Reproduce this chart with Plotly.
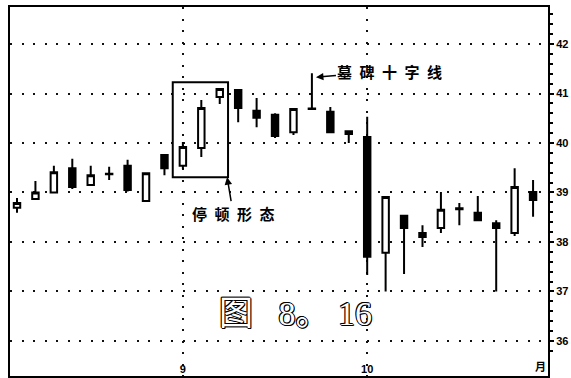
import plotly.graph_objects as go

# ---- data ----
idx = list(range(29))
opens = [38.69, 38.87, 39.00, 39.49, 39.15, 39.37, 39.54, 38.83, 39.76, 39.54,
         39.90, 40.93, 41.07, 40.65, 40.57, 40.22, 40.69, 40.63, 40.24, 40.12,
         37.78, 38.53, 38.18, 38.28, 38.66, 38.59, 38.38, 38.18, 39.01]
highs = [38.89, 39.23, 39.54, 39.68, 39.54, 39.52, 39.66, 39.39, 39.78, 40.02,
         40.87, 41.10, 41.07, 40.91, 40.60, 40.69, 41.41, 40.73, 40.24, 40.53,
         38.91, 38.55, 38.34, 39.01, 38.79, 38.93, 38.44, 39.49, 39.25]
lows = [38.59, 38.85, 38.99, 39.07, 39.15, 39.25, 39.02, 38.83, 39.35, 39.47,
        39.72, 40.79, 40.42, 40.32, 40.10, 40.16, 40.68, 40.20, 40.00, 37.33,
        37.00, 37.35, 37.90, 38.18, 38.34, 38.44, 37.00, 38.12, 38.51]
closes = [38.79, 39.00, 39.41, 39.11, 39.35, 39.38, 39.05, 39.39, 39.49, 39.92,
          40.71, 41.09, 40.71, 40.51, 40.14, 40.69, 40.70, 40.22, 40.18, 37.70,
          38.91, 38.28, 38.10, 38.65, 38.68, 38.44, 38.28, 39.11, 38.85]

month_tick_idx = [9, 19]
month_tick_text = ["9", "10"]
unit_tick_pos = [28.4]
unit_tick_text = ["月"]
price_ticks = [36, 37, 38, 39, 40, 41, 42]

pause_idx = [9, 10, 11]          # 停顿形态
gravestone_idx = 16              # 墓碑十字线

fig = go.Figure()
fig.add_trace(go.Candlestick(
    x=idx, open=opens, high=highs, low=lows, close=closes,
    increasing=dict(fillcolor="white", line=dict(color="black", width=2)),
    decreasing=dict(fillcolor="black", line=dict(color="black", width=2)),
    whiskerwidth=0, showlegend=False, hoverinfo="skip",
))
fig.add_trace(go.Scatter(x=[None], y=[None], xaxis="x2", showlegend=False))

grid = dict(gridcolor="#111", gridwidth=1.8, griddash="2px,9.5px")

fig.update_layout(
    width=571, height=378,
    margin=dict(l=10, r=23, t=7, b=2),
    paper_bgcolor="white", plot_bgcolor="white",
    boxgap=0.5,
    xaxis=dict(
        range=[-0.38, 28.81], tickvals=month_tick_idx, ticktext=month_tick_text,
        showgrid=True, **grid, zeroline=False,
        showline=True, linecolor="black", linewidth=2, mirror=True,
        ticks="", ticklabelposition="inside",
        tickfont=dict(family="Liberation Sans", size=11, color="black", weight="bold"),
        rangeslider=dict(visible=False),
    ),
    xaxis2=dict(
        overlaying="x", matches="x", side="bottom", showgrid=False, showline=False,
        tickvals=unit_tick_pos, ticktext=unit_tick_text, ticks="",
        ticklabelposition="inside", zeroline=False,
        tickfont=dict(family="Noto Sans CJK SC", size=11, color="black", weight="bold"),
    ),
    yaxis=dict(
        range=[35.29, 42.75], side="right", tickvals=price_ticks,
        showgrid=True, **grid, zeroline=False,
        showline=True, linecolor="black", linewidth=2, mirror=True,
        ticks="outside", ticklen=4, tickwidth=1.5, tickcolor="black",
        minor=dict(dtick=0.2, ticks="outside", ticklen=3, tickcolor="black", showgrid=False),
        tickfont=dict(family="Liberation Sans", size=11, color="black", weight="bold"),
    ),
)

# box around pause pattern
px0 = pause_idx[0] - 0.55
px1 = pause_idx[-1] + 0.45
py0 = min(lows[i] for i in pause_idx) - 0.16
py1 = max(highs[i] for i in pause_idx) + 0.13
fig.add_shape(type="rect", x0=px0, x1=px1, y0=py0, y1=py1,
              line=dict(color="black", width=2))

cjk = dict(family="Noto Sans CJK SC", size=15, color="black", weight="bold")
sp = "\u2002"
fig.add_annotation(x=px1 - 0.05, y=py0, text=sp.join("停顿形态"), showarrow=True,
                   ax=6, ay=36, arrowhead=2, arrowsize=1, arrowwidth=1.5,
                   arrowcolor="black", font=cjk)
fig.add_annotation(x=gravestone_idx + 0.22, y=highs[gravestone_idx] - 0.08,
                   text=sp.join("墓碑十字线"), showarrow=True, ax=74, ay=-6,
                   arrowhead=2, arrowsize=1, arrowwidth=1.5, arrowcolor="black",
                   font=cjk)
fig.add_annotation(xref="paper", yref="paper", x=0.53, y=0.115,
                   text="图\u00a0\u00a0\u00a08。\u00a016", showarrow=False,
                   font=dict(family="Liberation Serif, Noto Sans CJK SC", size=34,
                             color="white",
                             shadow="1px 0 0 #000, -1px 0 0 #000, 0 1px 0 #000, 0 -1px 0 #000, 1px 1px 0 #000, -1px -1px 0 #000"))

fig.write_html("out.html", config={"displayModeBar": False},
               post_script="document.body.style.margin='0';document.body.style.overflow='hidden';")
